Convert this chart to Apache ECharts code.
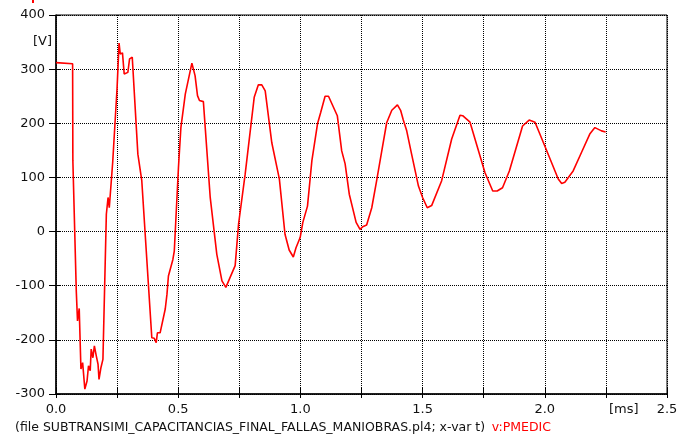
<!DOCTYPE html>
<html>
<head>
<meta charset="utf-8">
<script src="https://cdn.jsdelivr.net/npm/echarts@6/dist/echarts.min.js"></script>
<style>html,body{margin:0;padding:0;background:#fff}#c{width:694px;height:439px}</style>
</head>
<body>
<div id="c"></div>
<script>
// time in ms
const timeMs = [0,0.068,0.069,0.083,0.088,0.095,0.102,0.109,0.116,0.118,0.127,0.133,0.140,0.144,0.151,0.157,0.165,0.172,0.176,0.184,0.192,0.206,0.213,0.218,0.232,0.250,0.258,0.263,0.272,0.279,0.287,0.294,0.301,0.312,0.335,0.340,0.351,0.392,0.402,0.410,0.415,0.426,0.447,0.454,0.460,0.467,0.478,0.484,0.501,0.511,0.529,0.556,0.569,0.579,0.587,0.603,0.631,0.658,0.679,0.695,0.733,0.747,0.774,0.811,0.828,0.842,0.856,0.883,0.914,0.937,0.954,0.971,0.982,0.999,1.010,1.029,1.047,1.070,1.083,1.101,1.115,1.151,1.169,1.183,1.200,1.228,1.244,1.255,1.271,1.292,1.312,1.333,1.353,1.374,1.397,1.410,1.421,1.435,1.455,1.483,1.500,1.519,1.537,1.578,1.619,1.653,1.664,1.694,1.755,1.787,1.805,1.827,1.855,1.909,1.936,1.960,2.000,2.055,2.069,2.082,2.116,2.150,2.184,2.205,2.232,2.249];
// voltage PMEDIC in V
const vPmedic = [312,310,131,-110,-165,-142,-254,-242,-242,-291,-276,-248,-257,-217,-233,-211,-230,-245,-273,-251,-236,32,63,44,128,266,348,328,330,291,288,294,319,322,143,146,94,-196,-197,-205,-187,-187,-143,-116,-82,-82,-52,-36,118,192,254,311,288,251,242,240,63,-42,-91,-103,-63,14,106,248,271,271,260,164,97,-5,-34,-47,-30,-11,17,47,131,199,220,250,250,214,149,125,69,17,4,9,12,44,94,149,201,224,234,224,206,186,143,84,63,44,48,94,171,215,214,202,109,75,75,81,112,195,206,202,158,97,89,91,112,146,180,192,186,184];
const xTickLabels = ['0.0','0.5','1.0','1.5','2.0','2.5'];
const yTickLabels = ['-300','-200','-100','0','100','200','300','400'];
const xUnit = '[ms]';
const yUnit = '[V]';
const footerFile = '(file SUBTRANSIMI_CAPACITANCIAS_FINAL_FALLAS_MANIOBRAS.pl4; x-var t)';
const footerVar = 'v:PMEDIC';

const FONT = 'DejaVu Sans';
const chart = echarts.init(document.getElementById('c'), null, {renderer: 'canvas'});
const data = timeMs.map((t, i) => [t, vPmedic[i]]);
const gridH = 379, gridW = 611;
const xBase = {type: 'value', min: 0, max: 2.5, interval: 0.25};
const yBase = {type: 'value', min: -300, max: 400, interval: 100};

chart.setOption({
  animation: false,
  backgroundColor: '#fff',
  grid: {left: 56, right: 27, top: 15, bottom: 45, show: true, borderColor: '#000', borderWidth: 1, containLabel: false},
  xAxis: [
    Object.assign({}, xBase, {
      position: 'bottom',
      axisLine: {show: true, onZero: false, lineStyle: {color: '#000', width: 1.5}},
      axisTick: {show: true, inside: false, length: 4, lineStyle: {color: '#000'}},
      axisLabel: {
        show: true, margin: 9, color: '#111', fontFamily: FONT, fontSize: 13,
        formatter: v => {
          const k = Math.round(v / 0.5);
          return Math.abs(v - k * 0.5) < 1e-6 ? (xTickLabels[k] || '') : '';
        }
      },
      splitLine: {show: true, lineStyle: {color: '#000', type: [1, 1], width: 1}}
    }),
    Object.assign({}, xBase, {
      position: 'top', offset: -gridH,
      axisLine: {show: false, onZero: false},
      axisTick: {show: true, length: 6, lineStyle: {color: '#000'}},
      axisLabel: {show: false},
      splitLine: {show: false}
    })
  ],
  yAxis: [
    Object.assign({}, yBase, {
      position: 'left',
      axisLine: {show: true, onZero: false, lineStyle: {color: '#000', width: 1.5}},
      axisTick: {show: true, inside: false, length: 7, lineStyle: {color: '#000'}},
      axisLabel: {
        show: true, margin: 11, color: '#111', fontFamily: FONT, fontSize: 13,
        formatter: v => yTickLabels[Math.round((v + 300) / 100)] || ''
      },
      splitLine: {show: true, lineStyle: {color: '#000', type: [1, 1], width: 1}}
    }),
    Object.assign({}, yBase, {
      position: 'right', offset: -gridW,
      axisLine: {show: false, onZero: false},
      axisTick: {show: true, length: 4, lineStyle: {color: '#000'}},
      axisLabel: {show: false},
      splitLine: {show: false}
    })
  ],
  series: [{
    type: 'line', xAxisIndex: 0, yAxisIndex: 0, data: data,
    showSymbol: false, symbol: 'none', sampling: null,
    lineStyle: {color: '#ff0000', width: 1.6}, itemStyle: {color: '#ff0000'}
  }],
  graphic: [
    {type: 'text', left: 33, top: 35, style: {text: yUnit, fontFamily: FONT, fontSize: 13, fill: '#111'}},
    {type: 'text', left: 609, top: 403, style: {text: xUnit, fontFamily: FONT, fontSize: 13, fill: '#111'}},
    {type: 'text', left: 15, top: 421, style: {
      text: '{a|' + footerFile + '}  {b|' + footerVar + '}',
      rich: {
        a: {fontFamily: FONT, fontSize: 12.5, fill: '#111', color: '#111'},
        b: {fontFamily: FONT, fontSize: 12.5, fill: '#ff0000', color: '#ff0000'}
      }
    }},
    {type: 'rect', shape: {x: 32, y: 0, width: 2, height: 3}, style: {fill: '#ff0000'}}
  ]
});
</script>
</body>
</html>
